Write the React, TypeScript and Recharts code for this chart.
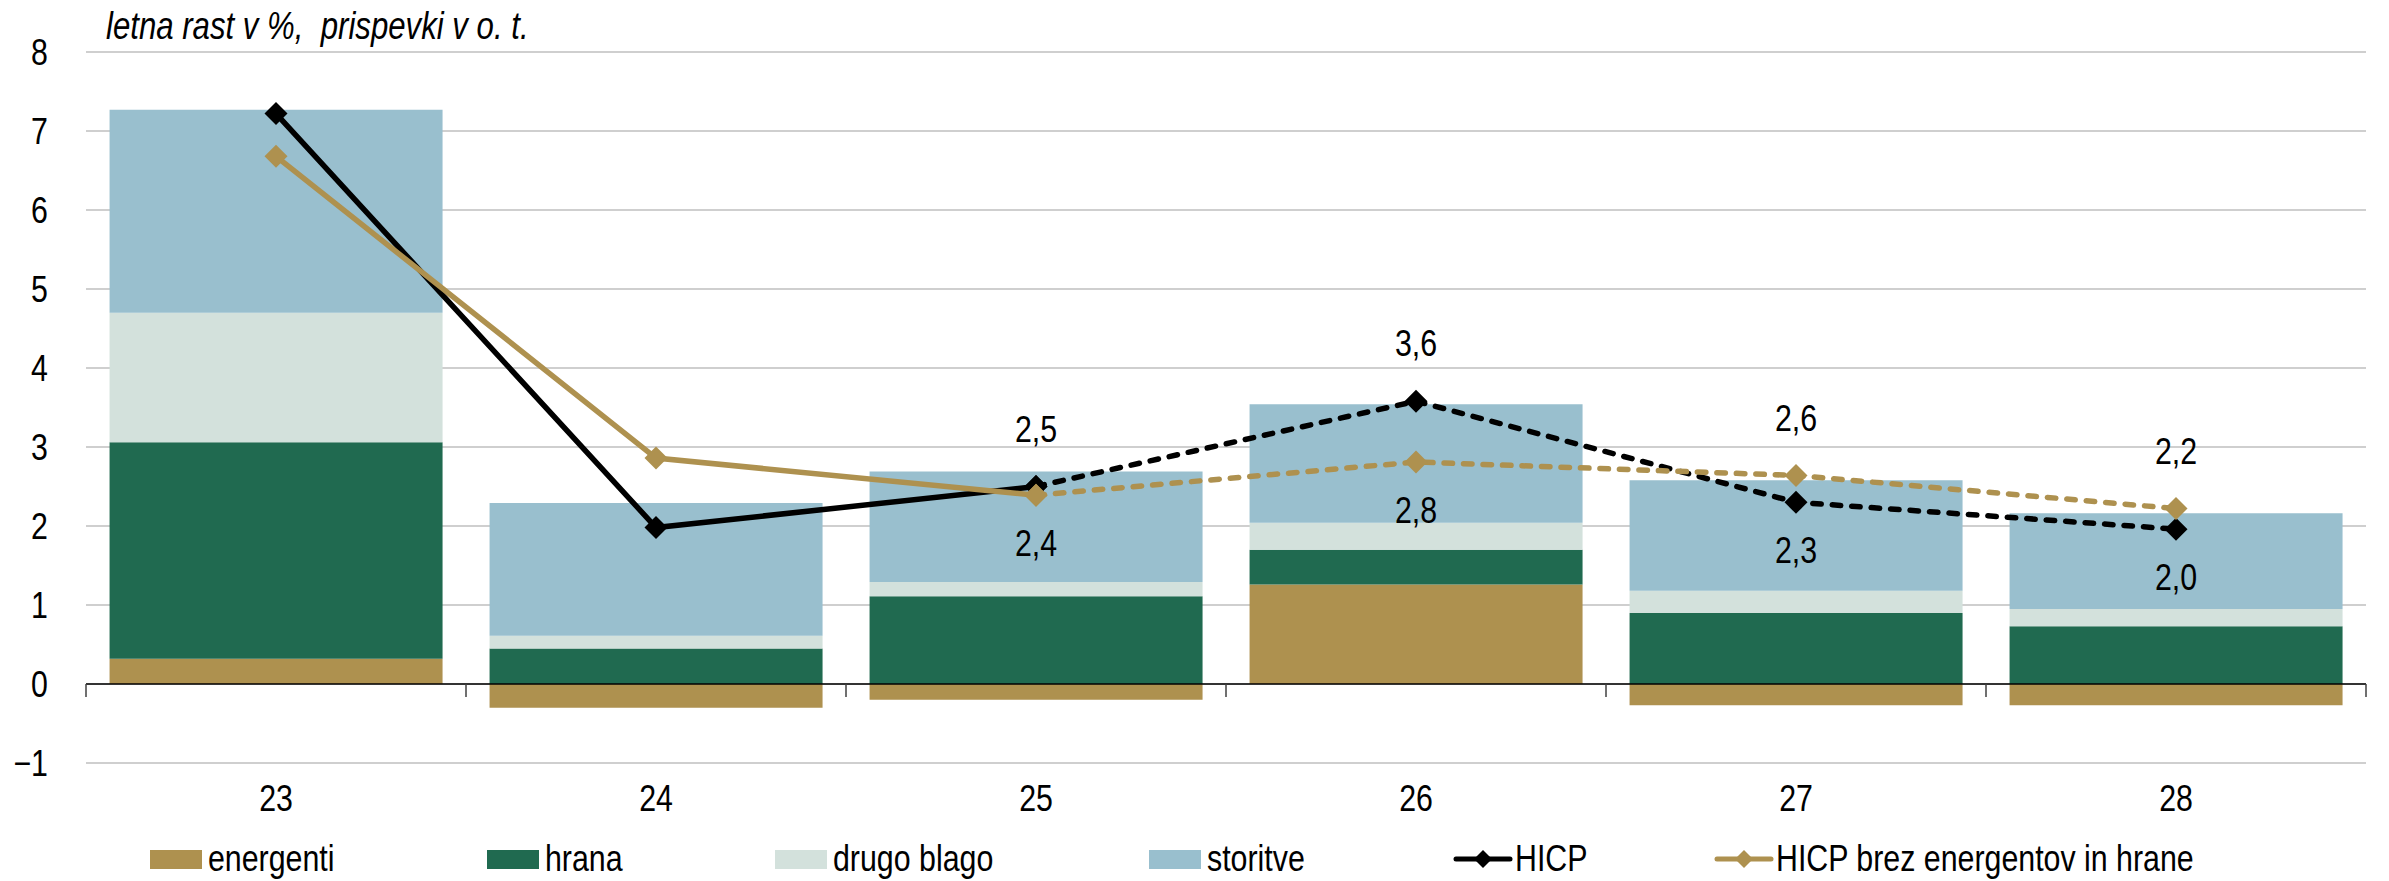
import React from "react";
import {
  ComposedChart,
  Bar,
  Line,
  XAxis,
  YAxis,
  CartesianGrid,
  ReferenceLine,
  LabelList,
} from "recharts";

const categories = ["23", "24", "25", "26", "27", "28"];
const energenti = [0.32, -0.3, -0.2, 1.26, -0.27, -0.27];
const hrana = [2.74, 0.45, 1.11, 0.44, 0.9, 0.73];
const drugoBlago = [1.64, 0.16, 0.18, 0.34, 0.28, 0.22];
const storitve = [2.57, 1.68, 1.4, 1.5, 1.4, 1.21];
const hicp = [7.22, 1.98, 2.5, 3.58, 2.3, 1.96];
const hicpCore = [6.68, 2.86, 2.39, 2.81, 2.64, 2.22];
const yTicks = [-1, 0, 1, 2, 3, 4, 5, 6, 7, 8];
// projections start at this index (dashed lines from here on)
const forecastFrom = 2;

// no narrow font installed -> squeeze Liberation Sans horizontally
const FONT = "'Liberation Sans', Arial, sans-serif";
const SQ = 0.82;
const C_ENERGY = "#AE914F";
const C_FOOD = "#206A50";
const C_OTHER = "#D3E1DC";
const C_SERV = "#99BFCE";
const C_HICP = "#000000";
const C_CORE = "#AE914F";
const LW = 5.5;
const DASH = "8.5 11";

const data = categories.map((name, i) => ({
  name,
  energenti: energenti[i],
  hrana: hrana[i],
  drugoBlago: drugoBlago[i],
  storitve: storitve[i],
  hicpSolid: i <= forecastFrom ? hicp[i] : null,
  hicpDash: i >= forecastFrom ? hicp[i] : null,
  coreSolid: i <= forecastFrom ? hicpCore[i] : null,
  coreDash: i >= forecastFrom ? hicpCore[i] : null,
}));

const NarrowText = ({ x, y, anchor, children }: any) => (
  <text
    transform={`translate(${x},${y}) scale(${SQ},1)`}
    x={0}
    y={0}
    textAnchor={anchor}
    dominantBaseline="central"
    fontFamily={FONT}
    fontSize={37}
    fill="#000"
  >
    {children}
  </text>
);

const diamond = (color: string) => (props: any) => {
  const { cx, cy, index } = props;
  if (cx == null || cy == null || props.value == null) return <g key={"d" + index} />;
  const r = 11.5;
  return (
    <path
      key={"d" + index}
      d={`M${cx},${cy - r}L${cx + r},${cy}L${cx},${cy + r}L${cx - r},${cy}Z`}
      fill={color}
    />
  );
};

const fmt = (v: number) => v.toFixed(1).replace(".", ",");

const valueLabel = (own: number[], other: number[]) => (props: any) => {
  const { x, y, index, value } = props;
  if (value == null) return null;
  const above = own[index] >= other[index];
  return (
    <NarrowText key={"l" + index} x={x} y={above ? y - 58 : y + 48} anchor="middle">
      {fmt(own[index])}
    </NarrowText>
  );
};

const XTick = (props: any) => {
  const { x, y, payload } = props;
  return (
    <NarrowText x={x} y={y + 35} anchor="middle">
      {payload.value}
    </NarrowText>
  );
};

const YTick = (props: any) => {
  const { x, y, payload } = props;
  const v = payload.value;
  return (
    <NarrowText x={x} y={y} anchor="end">
      {v < 0 ? "\u2212" + Math.abs(v) : String(v)}
    </NarrowText>
  );
};

const zeroAxis = (props: any) => {
  const { x1, y1, x2, y2 } = props;
  const step = (x2 - x1) / categories.length;
  const ticks = [];
  for (let i = 0; i <= categories.length; i++) {
    const x = x1 + i * step;
    ticks.push(<line key={i} x1={x} x2={x} y1={y1} y2={y1 + 13} stroke="#404040" strokeWidth={1.5} />);
  }
  return (
    <g>
      <line x1={x1} y1={y1} x2={x2} y2={y2} stroke="#000" strokeWidth={1.6} />
      {ticks}
    </g>
  );
};

const legendItems = [
  { name: "energenti", color: C_ENERGY, kind: "box", left: 150 },
  { name: "hrana", color: C_FOOD, kind: "box", left: 487 },
  { name: "drugo blago", color: C_OTHER, kind: "box", left: 775 },
  { name: "storitve", color: C_SERV, kind: "box", left: 1149 },
  { name: "HICP", color: C_HICP, kind: "line", left: 1453 },
  { name: "HICP brez energentov in hrane", color: C_CORE, kind: "line", left: 1714 },
];

const App = () => {
  return (
    <div
      style={{
        position: "fixed",
        left: 0,
        top: 0,
        width: 2389,
        height: 881,
        background: "#fff",
        fontFamily: FONT,
      }}
    >
      <div
        style={{
          position: "absolute",
          left: 106,
          top: 7,
          fontSize: 38,
          lineHeight: "38px",
          fontStyle: "italic",
          whiteSpace: "pre",
          color: "#000",
          transform: `scaleX(${SQ})`,
          transformOrigin: "left center",
        }}
      >
        {"letna rast v %,  prispevki v o. t."}
      </div>
      <ComposedChart
        width={2389}
        height={881}
        data={data}
        stackOffset="sign"
        barCategoryGap="6.2%"
        margin={{ top: 52, right: 23, left: 0, bottom: 68 }}
      >
        <CartesianGrid vertical={false} stroke="#BFBFBF" strokeWidth={1.3} />
        <XAxis
          dataKey="name"
          height={50}
          axisLine={false}
          tickLine={false}
          tickSize={0}
          tickMargin={0}
          tick={<XTick />}
        />
        <YAxis
          width={86}
          domain={[-1, 8]}
          ticks={yTicks}
          interval={0}
          axisLine={false}
          tickLine={false}
          tickSize={0}
          tickMargin={38}
          tick={<YTick />}
        />
        <Bar dataKey="energenti" stackId="a" fill={C_ENERGY} isAnimationActive={false} />
        <Bar dataKey="hrana" stackId="a" fill={C_FOOD} isAnimationActive={false} />
        <Bar dataKey="drugoBlago" stackId="a" fill={C_OTHER} isAnimationActive={false} />
        <Bar dataKey="storitve" stackId="a" fill={C_SERV} isAnimationActive={false} />
        <ReferenceLine y={0} shape={zeroAxis} />
        <Line
          dataKey="hicpSolid"
          stroke={C_HICP}
          strokeWidth={LW}
          dot={diamond(C_HICP)}
          activeDot={false}
          isAnimationActive={false}
        />
        <Line
          dataKey="hicpDash"
          stroke={C_HICP}
          strokeWidth={LW}
          strokeDasharray={DASH}
          strokeLinecap="round"
          dot={diamond(C_HICP)}
          activeDot={false}
          isAnimationActive={false}
        >
          <LabelList dataKey="hicpDash" content={valueLabel(hicp, hicpCore)} />
        </Line>
        <Line
          dataKey="coreSolid"
          stroke={C_CORE}
          strokeWidth={LW}
          dot={diamond(C_CORE)}
          activeDot={false}
          isAnimationActive={false}
        />
        <Line
          dataKey="coreDash"
          stroke={C_CORE}
          strokeWidth={LW}
          strokeDasharray={DASH}
          strokeLinecap="round"
          dot={diamond(C_CORE)}
          activeDot={false}
          isAnimationActive={false}
        >
          <LabelList dataKey="coreDash" content={valueLabel(hicpCore, hicp)} />
        </Line>
      </ComposedChart>
      {legendItems.map((it) => (
        <div
          key={it.name}
          style={{
            position: "absolute",
            left: it.left,
            top: 840,
            height: 38,
            display: "flex",
            alignItems: "center",
            fontSize: 37,
            color: "#000",
            whiteSpace: "nowrap",
          }}
        >
          {it.kind === "box" ? (
            <div style={{ width: 52, height: 19, background: it.color, marginRight: 6 }} />
          ) : (
            <svg width={60} height={22} style={{ marginRight: 2 }}>
              <line x1={3} y1={11} x2={57} y2={11} stroke={it.color} strokeWidth={5} strokeLinecap="round" />
              <path d="M30,2L39,11L30,20L21,11Z" fill={it.color} />
            </svg>
          )}
          <span style={{ display: "inline-block", transform: `scaleX(${SQ})`, transformOrigin: "left center" }}>
            {it.name}
          </span>
        </div>
      ))}
    </div>
  );
};

export default App;
